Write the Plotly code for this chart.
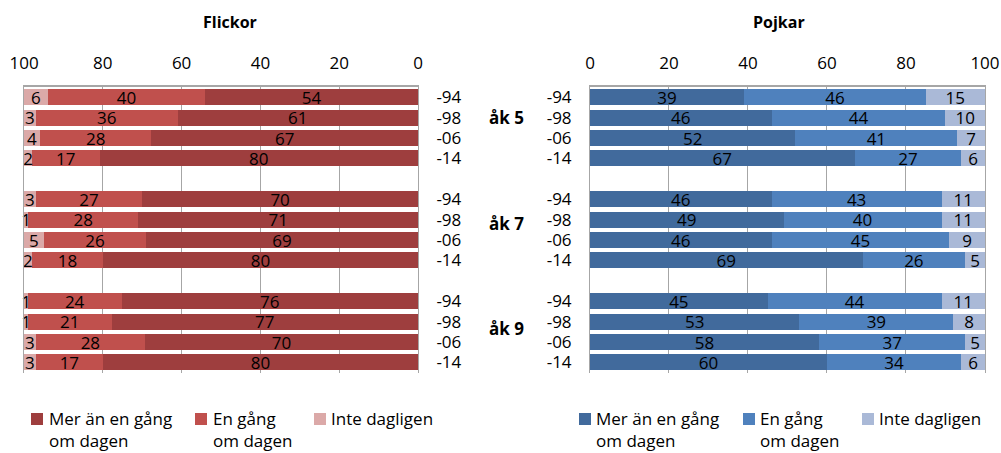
import plotly.graph_objects as go

years = ["-94", "-98", "-06", "-14"]
grades = ["åk 5", "åk 7", "åk 9"]
series = ["Mer än en gång<br>om dagen", "En gång<br>om dagen", "Inte dagligen"]

# Flickor (girls)
f_mer = [54, 61, 67, 80, 70, 71, 69, 80, 76, 77, 70, 80]
f_en = [40, 36, 28, 17, 27, 28, 26, 18, 24, 21, 28, 17]
f_inte = [6, 3, 4, 2, 3, 1, 5, 2, 1, 1, 3, 3]

# Pojkar (boys)
p_mer = [39, 46, 52, 67, 46, 49, 46, 69, 45, 53, 58, 60]
p_en = [46, 44, 41, 27, 43, 40, 45, 26, 44, 39, 37, 34]
p_inte = [15, 10, 7, 6, 11, 11, 9, 5, 11, 8, 5, 6]

f_colors = ["#9E3E3E", "#C0504D", "#DBA9A8"]
p_colors = ["#416A9C", "#4F81BD", "#AAB9D7"]

FONT = "Open Sans"
W, H = 1001, 453


def px(x):
    return x / W


def py(y):
    return 1 - y / H


# category keys (with spacer rows between grade groups)
keys = [f"{g} {y}" for g in grades for y in years]
order = []
for gi, g in enumerate(grades):
    order += [f"{g} {y}" for y in years]
    if gi < len(grades) - 1:
        order.append(" " * (gi + 1))
ticktext = [k.split(" ")[-1] for k in keys]

fig = go.Figure()


def add_bars(vals_list, colors, xa, ya):
    for name, vals, col in zip(series, vals_list, colors):
        fig.add_trace(go.Bar(
            y=keys, x=vals, orientation="h", name=name, marker_color=col,
            marker_line_width=0, text=vals, textposition="inside",
            insidetextanchor="middle", constraintext="none", textangle=0,
            textfont=dict(color="black", size=17, family=FONT),
            xaxis=xa, yaxis=ya, showlegend=False, cliponaxis=False,
        ))


add_bars([f_mer, f_en, f_inte], f_colors, "x", "y")
add_bars([p_mer, p_en, p_inte], p_colors, "x2", "y2")

ydom = [py(372.6), py(87)]

xcommon = dict(
    side="top", showgrid=True, gridcolor="#A6A6A6", gridwidth=1,
    showline=True, linecolor="#A6A6A6", linewidth=1.5, mirror=False,
    tickvals=[0, 20, 40, 60, 80, 100], ticks="", zeroline=False,
    tickfont=dict(size=17, family=FONT, color="black"), ticklabelstandoff=9,
    fixedrange=True,
)
ycommon = dict(
    type="category", categoryarray=order, categoryorder="array",
    range=[len(order) - 0.5, -0.5], tickvals=keys, ticktext=ticktext,
    showgrid=False, zeroline=False, showline=True, mirror=True,
    linecolor="#A6A6A6", linewidth=1, ticks="",
    tickfont=dict(size=17, family=FONT, color="black"),
)

# manual legends (swatch + text), positions in pixels
legend_left = [(31, 47), (195, 211), (314, 329)]
legend_right = [(579, 594), (743, 758), (862, 877)]
shapes = []
annotations = []
for items, colors in [(legend_left, f_colors), (legend_right, p_colors)]:
    for (sx, tx), col, name in zip(items, colors, series):
        shapes.append(dict(type="rect", xref="paper", yref="paper",
                           x0=px(sx), x1=px(sx + 12),
                           y0=py(425), y1=py(413),
                           fillcolor=col, line_width=0))
        annotations.append(dict(text=name, x=px(tx), y=py(405),
                                xref="paper", yref="paper", xanchor="left",
                                yanchor="top", align="left", showarrow=False,
                                font=dict(size=17, family=FONT)))

annotations += [
    dict(text="<b>Flickor</b>", x=px(230), y=py(22), xref="paper", yref="paper",
         xanchor="center", yanchor="middle", showarrow=False, font=dict(size=16, family=FONT)),
    dict(text="<b>Pojkar</b>", x=px(779), y=py(22), xref="paper", yref="paper",
         xanchor="center", yanchor="middle", showarrow=False, font=dict(size=16, family=FONT)),
] + [
    dict(text=f"<b>{g}</b>", x=px(487), xref="paper", y=f"{g} -98", yref="y",
         xanchor="left", yanchor="middle",
         showarrow=False, font=dict(size=17, family=FONT), yshift=s)
    for g, s in zip(grades, [0, -4, -7])
]

fig.update_layout(
    width=W, height=H, margin=dict(l=0, r=0, t=0, b=0, autoexpand=False),
    paper_bgcolor="white", plot_bgcolor="white",
    barmode="stack", barnorm="percent", bargap=0.22,
    font=dict(family=FONT, color="black", size=17),
    xaxis=dict(domain=[px(24), px(418)], range=[100.01, 0], anchor="y", **xcommon),
    yaxis=dict(domain=ydom, anchor="x", side="right", ticklabelstandoff=14, **ycommon),
    xaxis2=dict(domain=[px(590), px(985)], range=[0, 100.01], anchor="y2", **xcommon),
    yaxis2=dict(domain=ydom, anchor="x2", side="left", ticklabelstandoff=14, **ycommon),
    showlegend=False,
    hovermode=False,
    shapes=shapes,
    annotations=annotations,
)

fig.write_html("out.html", config={"displayModeBar": False},
               post_script="document.body.style.margin='0';")
